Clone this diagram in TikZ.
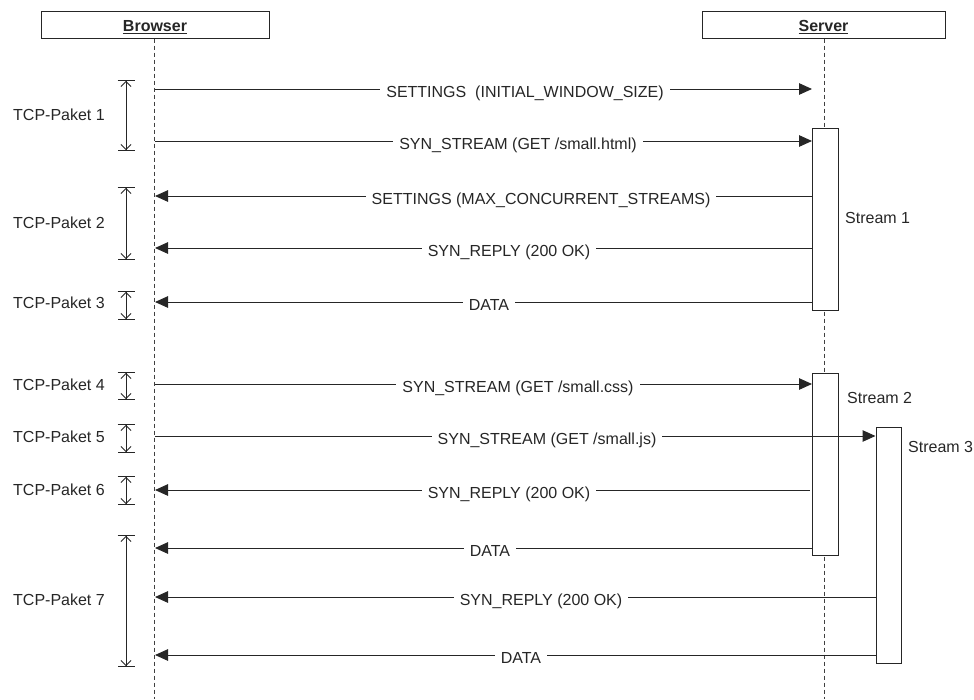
\documentclass[tikz,border=0pt]{standalone}
\usepackage{fontspec}
\setmainfont{Liberation Sans}
\usetikzlibrary{arrows.meta}
\begin{document}
\begin{tikzpicture}[x=1pt,y=-1pt,
  font=\fontsize{16}{19}\selectfont,
  ln/.style={line width=1pt, draw=black!85},
  head/.style={ln, fill=white, minimum height=27pt, inner sep=0pt, text=black!85,
    text height=15pt, text depth=1pt},
  life/.style={line width=0.9pt, dash pattern=on 4pt off 3pt, draw=black!75},
  act/.style={ln, fill=white, inner sep=0pt, anchor=north west, minimum width=25.5pt},
  msg/.style={ln, -{Triangle[length=13pt,width=11.5pt]}},
  lbl/.style={fill=white, inner xsep=6pt, inner ysep=1pt, text=black!85,
    text height=11.5pt, text depth=3.5pt, yshift=-4pt},
  pkt/.style={line width=0.9pt, draw=black!85,
    {Bar[width=17pt,sep=0pt]Straight Barb[length=5pt,width=10pt,sep=0pt]}-{Straight Barb[length=5pt,width=10pt,sep=0pt]Bar[width=17pt,sep=0pt]}},
  plbl/.style={anchor=west, inner sep=0pt, text=black!85},
  slbl/.style={anchor=west, inner sep=0pt, text=black!85},
]
\useasboundingbox (0,0) rectangle (974,699);

% heads
\node[head, minimum width=228pt] (browser) at (155,24.5) {\textbf{\underline{Browser}}};
\node[head, minimum width=243pt] (server) at (823.5,24.5) {\textbf{\underline{Server}}};

% lifelines
\coordinate (bend) at (154.5,699);
\coordinate (send) at (824,699);
\draw[life] (browser.south -| bend) -- (bend);
\draw[life] (server.south -| send) -- (send);

% activation boxes
\node[act, minimum height=182pt] (st1) at (812,128) {};
\node[act, minimum height=182pt] (st2) at (812,373) {};
\node[act, minimum height=236pt] (st3) at (875.5,427) {};
\node[slbl] (st1l) at (845,218) {Stream 1};
\node[slbl] (st2l) at (847,398) {Stream 2};
\node[slbl] (st3l) at (908,447) {Stream 3};

% message endpoints
\coordinate (b1) at (155,89);   \coordinate (s1) at (812,89);
\coordinate (b2) at (155,141);  \coordinate (s2) at (812,141);
\coordinate (b3) at (155,196);  \coordinate (s3) at (812,196);
\coordinate (b4) at (155,248);  \coordinate (s4) at (812,248);
\coordinate (b5) at (155,302);  \coordinate (s5) at (812,302);
\coordinate (b6) at (155,384);  \coordinate (s6) at (812,384);
\coordinate (b7) at (155,436);  \coordinate (s7) at (875.5,436);
\coordinate (b8) at (155,490);  \coordinate (s8) at (810,490);
\coordinate (b9) at (155,548);  \coordinate (s9) at (812,548);
\coordinate (b10) at (155,597); \coordinate (s10) at (875.5,597);
\coordinate (b11) at (155,655); \coordinate (s11) at (875.5,655);

\draw[msg] (b1) -- (s1);
\draw[msg] (b2) -- (s2);
\draw[msg] (s3) -- (b3);
\draw[msg] (s4) -- (b4);
\draw[msg] (s5) -- (b5);
\draw[msg] (b6) -- (s6);
\draw[msg] (b7) -- (s7);
\draw[msg] (s8) -- (b8);
\draw[msg] (s9) -- (b9);
\draw[msg] (s10) -- (b10);
\draw[msg] (s11) -- (b11);

% message labels
\node[lbl] (m1) at (525,89) {SETTINGS\ \ (INITIAL\_WINDOW\_SIZE)};
\node[lbl] (m2) at (518,141) {SYN\_STREAM (GET /small.html)};
\node[lbl] (m3) at (541,196) {SETTINGS (MAX\_CONCURRENT\_STREAMS)};
\node[lbl] (m4) at (509,248) {SYN\_REPLY (200 OK)};
\node[lbl] (m5) at (489,302) {DATA};
\node[lbl] (m6) at (518,384) {SYN\_STREAM (GET /small.css)};
\node[lbl] (m7) at (547,436) {SYN\_STREAM (GET /small.js)};
\node[lbl] (m8) at (509,490) {SYN\_REPLY (200 OK)};
\node[lbl] (m9) at (490,548) {DATA};
\node[lbl] (m10) at (541,597) {SYN\_REPLY (200 OK)};
\node[lbl] (m11) at (521,655) {DATA};

% TCP packet brackets
\coordinate (p1t) at (126,80);  \coordinate (p1b) at (126,151);
\coordinate (p2t) at (126,187); \coordinate (p2b) at (126,260);
\coordinate (p3t) at (126,291); \coordinate (p3b) at (126,320);
\coordinate (p4t) at (126,372); \coordinate (p4b) at (126,400);
\coordinate (p5t) at (126,424); \coordinate (p5b) at (126,453);
\coordinate (p6t) at (126,476); \coordinate (p6b) at (126,505);
\coordinate (p7t) at (126,535); \coordinate (p7b) at (126,667);
\draw[pkt] (p1t) -- (p1b);
\draw[pkt] (p2t) -- (p2b);
\draw[pkt] (p3t) -- (p3b);
\draw[pkt] (p4t) -- (p4b);
\draw[pkt] (p5t) -- (p5b);
\draw[pkt] (p6t) -- (p6b);
\draw[pkt] (p7t) -- (p7b);

\node[plbl] (t1) at (13,115) {TCP-Paket 1};
\node[plbl] (t2) at (13,223) {TCP-Paket 2};
\node[plbl] (t3) at (13,303) {TCP-Paket 3};
\node[plbl] (t4) at (13,385) {TCP-Paket 4};
\node[plbl] (t5) at (13,437) {TCP-Paket 5};
\node[plbl] (t6) at (13,490) {TCP-Paket 6};
\node[plbl] (t7) at (13,600) {TCP-Paket 7};
\end{tikzpicture}
\end{document}
